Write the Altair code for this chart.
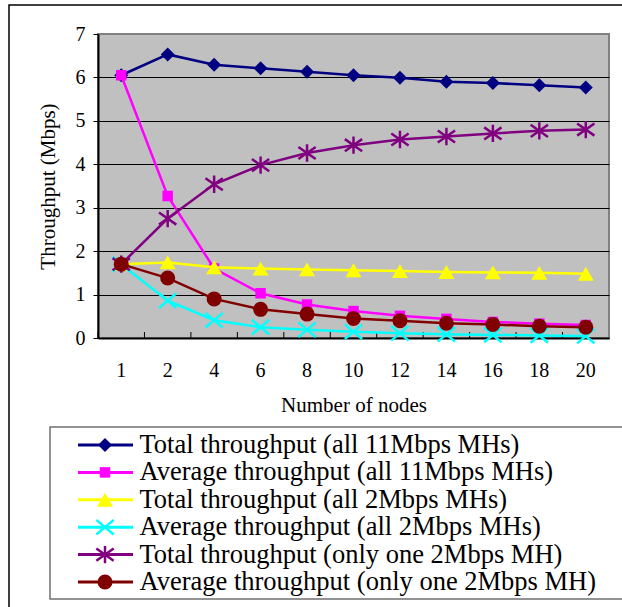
import altair as alt
import pandas as pd

nodes = ["1", "2", "4", "6", "8", "10", "12", "14", "16", "18", "20"]
series_names = [
    "Total throughput (all 11Mbps MHs)",
    "Average throughput (all 11Mbps MHs)",
    "Total throughput (all 2Mbps MHs)",
    "Average throughput (all 2Mbps MHs)",
    "Total throughput (only one 2Mbps MH)",
    "Average throughput (only one 2Mbps MH)",
]
total_11 = [6.05, 6.53, 6.29, 6.21, 6.13, 6.05, 5.99, 5.90, 5.87, 5.82, 5.77]
avg_11 = [6.05, 3.27, 1.60, 1.03, 0.77, 0.62, 0.51, 0.44, 0.37, 0.33, 0.30]
total_2 = [1.70, 1.74, 1.63, 1.60, 1.58, 1.56, 1.54, 1.52, 1.51, 1.50, 1.48]
avg_2 = [1.70, 0.86, 0.41, 0.25, 0.19, 0.145, 0.11, 0.085, 0.07, 0.06, 0.045]
total_one = [1.70, 2.75, 3.54, 3.98, 4.26, 4.44, 4.57, 4.64, 4.71, 4.77, 4.80]
avg_one = [1.70, 1.38, 0.90, 0.66, 0.55, 0.45, 0.40, 0.34, 0.31, 0.27, 0.25]

colors = ["#000080", "#FF00FF", "#FFFF00", "#00FFFF", "#800080", "#800000"]
X_PATH = "M-1,-0.85L1,0.85M-1,0.85L1,-0.85"
STAR_PATH = "M-1,-0.7L1,0.7M-1,0.7L1,-0.7M0,-1L0,1"
shapes = ["diamond", "square", "triangle-up", X_PATH, STAR_PATH, "circle"]
filled = [True, True, True, False, False, True]
sizes = [196, 110, 256, 300, 300, 225]

all_values = [total_11, avg_11, total_2, avg_2, total_one, avg_one]
rows = []
for name, vals in zip(series_names, all_values):
    for n, v in zip(nodes, vals):
        rows.append({"nodes": n, "series": name, "value": v})
df = pd.DataFrame(rows)

W, H = 511, 304
FONT = "Liberation Serif"

x_scale = alt.Scale(type="band", domain=nodes, paddingInner=0, paddingOuter=0)
x_axis = alt.Axis(
    title="Number of nodes", labelAngle=0, ticks=False, tickSize=0, labelPadding=22,
    grid=False, domainColor="black", domainWidth=2, titleY=67, titleBaseline="middle",
)
y_scale = alt.Scale(domain=[0, 7], nice=False)
y_axis = alt.Axis(
    title="Throughput (Mbps)", values=list(range(8)), tickSize=5, tickColor="black",
    labelPadding=8, grid=True,
    gridColor={"condition": {"test": "datum.value === 7", "value": "transparent"}, "value": "black"},
    domainColor="black", domainWidth=2, titleX=-50, titleY=H / 2, titleAngle=270,
    titleBaseline="middle", titleAlign="center",
)

x_pt = alt.X("nodes:N", scale=x_scale, axis=x_axis, bandPosition=0.5)
y_enc = alt.Y("value:Q", scale=y_scale, axis=y_axis)

base = alt.Chart(df)
ticks = alt.Chart(pd.DataFrame({"nodes": nodes})).mark_rule(color="black", strokeWidth=1).encode(
    x=alt.X("nodes:N", scale=x_scale, axis=x_axis, bandPosition=0),
    y=alt.value(H), y2=alt.value(H - 6),
)

main_layers = [ticks]
for i, name in enumerate(series_names):
    sub = base.transform_filter(alt.datum.series == name)
    main_layers.append(sub.mark_line(color=colors[i], strokeWidth=2.5).encode(x=x_pt, y=y_enc))
    if filled[i]:
        pm = sub.mark_point(shape=shapes[i], size=sizes[i], filled=True, color=colors[i], opacity=1)
    else:
        pm = sub.mark_point(shape=shapes[i], size=sizes[i], filled=False, color=colors[i], opacity=1, strokeWidth=2.5)
    main_layers.append(pm.encode(x=x_pt, y=y_enc))
main = alt.layer(*main_layers)

leg_scale = alt.Scale(type="point", domain=series_names, range=[411, 548], padding=0)
leg_y = alt.Y("series:N", scale=leg_scale, axis=None)
leg_layers = []
for i, name in enumerate(series_names):
    d = alt.Data(values=[{"series": name}])
    leg_layers.append(alt.Chart(d).mark_rule(color=colors[i], strokeWidth=3).encode(
        x=alt.value(-20), x2=alt.value(35), y=leg_y))
    if filled[i]:
        pm = alt.Chart(d).mark_point(shape=shapes[i], size=sizes[i], filled=True, color=colors[i], opacity=1)
    else:
        pm = alt.Chart(d).mark_point(shape=shapes[i], size=sizes[i], filled=False, color=colors[i], opacity=1, strokeWidth=2.5)
    leg_layers.append(pm.encode(x=alt.value(7), y=leg_y))
    leg_layers.append(alt.Chart(d).mark_text(align="left", baseline="middle", font=FONT, fontSize=26.5, color="black").encode(
        x=alt.value(41.5), y=leg_y, text="series:N"))
legend = alt.layer(*leg_layers)

deco_data = alt.Data(values=[{}])
outer = alt.Chart(deco_data).mark_rect(fillOpacity=0, stroke="black", strokeWidth=1.5).encode(
    x=alt.value(-89), x2=alt.value(620), y=alt.value(-29), y2=alt.value(620))
legbox = alt.Chart(deco_data).mark_rect(fillOpacity=0, stroke="#707070", strokeWidth=1.5).encode(
    x=alt.value(-48), x2=alt.value(620), y=alt.value(393), y2=alt.value(565))

chart = alt.layer(outer, legbox, main, legend).resolve_scale(y="independent").properties(
    width=W, height=H,
    autosize=alt.AutoSizeParams(type="none"),
    padding={"left": 98, "top": 34, "right": 13, "bottom": 269},
    background="white",
).configure_view(fill="#C0C0C0", stroke="#808080", strokeWidth=2).configure_axis(
    labelFont=FONT, labelFontSize=20, labelColor="black",
    titleFont=FONT, titleFontSize=21, titleColor="black", titleFontWeight="normal",
)

chart.save("out.html", embed_options={"renderer": "svg", "actions": False})
